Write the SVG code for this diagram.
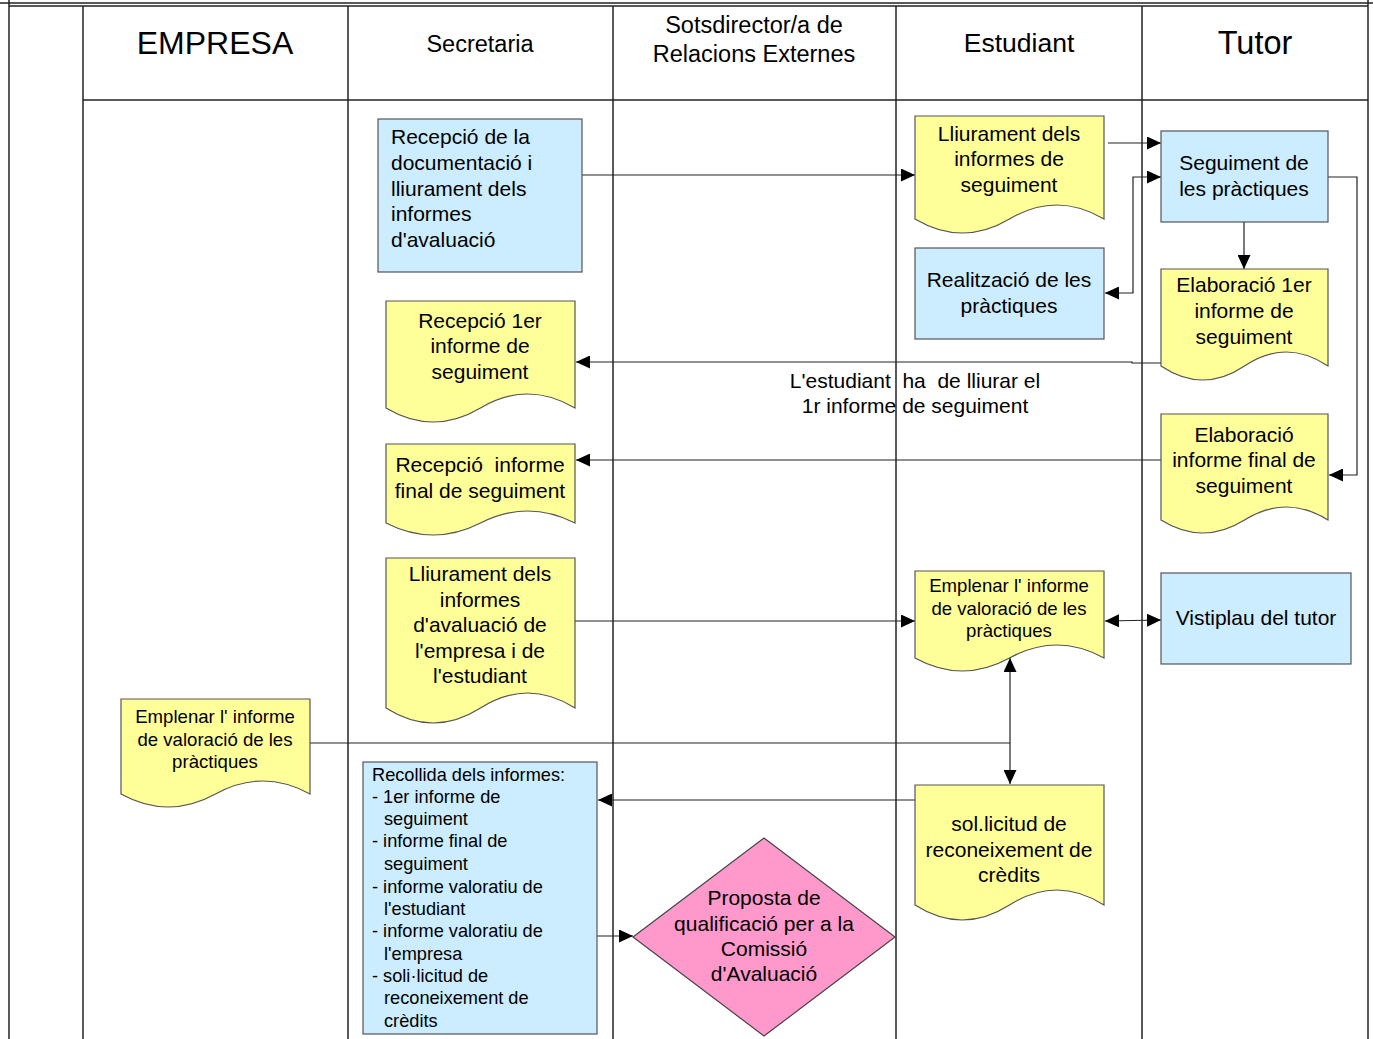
<svg xmlns="http://www.w3.org/2000/svg" width="1373" height="1039" viewBox="0 0 1373 1039">
<style>
text{font-family:"Liberation Sans",Arial,sans-serif;fill:#000}
.t{font-size:21px;text-anchor:middle}
.tl{font-size:21px}
.s{font-size:18.6px;text-anchor:middle}
.r{font-size:18.2px}
.h{text-anchor:middle}
.grid{stroke:#222;stroke-width:1.5;fill:none}
.blue{fill:#CCECFF;stroke:#555;stroke-width:1.2}
.yel{fill:#FFFF99;stroke:#555;stroke-width:1.2}
.pink{fill:#FF99CC;stroke:#444;stroke-width:1.2}
.c{stroke:#222;stroke-width:1.2;fill:none}
.a{marker-end:url(#ah)}
.b{marker-start:url(#ah);marker-end:url(#ah)}
</style>
<defs>
<marker id="ah" markerUnits="userSpaceOnUse" markerWidth="15" markerHeight="13" refX="14" refY="6.5" orient="auto-start-reverse"><path d="M0,0 L14,6.5 L0,13 z" fill="#000"/></marker>
</defs>
<rect width="1373" height="1039" fill="#fff"/>
<g id="table">
<line class="grid" x1="0" y1="3" x2="1373" y2="3" stroke-width="1"/>
<line class="grid" x1="9" y1="6" x2="1368" y2="6"/>
<line class="grid" x1="9" y1="0" x2="9" y2="1039"/>
<line class="grid" x1="83" y1="6" x2="83" y2="1039"/>
<line class="grid" x1="348" y1="6" x2="348" y2="1039"/>
<line class="grid" x1="613" y1="6" x2="613" y2="1039"/>
<line class="grid" x1="896" y1="6" x2="896" y2="1039"/>
<line class="grid" x1="1142" y1="6" x2="1142" y2="1039"/>
<line class="grid" x1="1368" y1="0" x2="1368" y2="1039"/>
<line class="grid" x1="83" y1="100" x2="1368" y2="100"/>
<text class="h" x="215" y="54" font-size="32">EMPRESA</text>
<text class="h" x="480" y="52" font-size="23.5">Secretaria</text>
<text class="h" x="754" y="33" font-size="23.5">Sotsdirector/a de</text>
<text class="h" x="754" y="62" font-size="23.5">Relacions Externes</text>
<text class="h" x="1019" y="52" font-size="26.5">Estudiant</text>
<text class="h" x="1255" y="54" font-size="32.5">Tutor</text>
</g>
<g id="connectors">
<path class="c a" d="M582,175 H915"/>
<path class="c a" d="M1108,143 H1161"/>
<path class="c b" d="M1161,177 H1133 V293 H1105"/>
<path class="c a" d="M1244,222 V269"/>
<path class="c a" d="M1161,363 H1132 V362 H576"/>
<path class="c a" d="M1328,177 H1357 V475 H1329"/>
<path class="c a" d="M1161,460 H576"/>
<path class="c a" d="M575,621 H915"/>
<path class="c b" d="M1105,621 L1161,620"/>
<path class="c" d="M310,743 H1010"/>
<path class="c b" d="M1010,658 V784"/>
<path class="c a" d="M915,800 H598"/>
<path class="c a" d="M597,936 H633"/>
<text class="tl" x="915" y="388" text-anchor="middle" font-size="19.5" style="white-space:pre">L'estudiant  ha  de lliurar el</text>
<text class="tl" x="915" y="413" text-anchor="middle" font-size="19.5">1r informe de seguiment</text>
</g>
<g id="n_recepcio_doc">
<rect class="blue" x="378" y="119" width="204" height="153"/>
<text class="tl" x="391" y="144">Recepció de la</text>
<text class="tl" x="391" y="170">documentació i</text>
<text class="tl" x="391" y="196">lliurament dels</text>
<text class="tl" x="391" y="221">informes</text>
<text class="tl" x="391" y="247">d'avaluació</text>
</g>
<g id="n_lliurament_seg">
<path class="yel" d="M915,116 H1104 V219 Q1056.75,191 1009.5,219 T915,219 Z"/>
<text class="t" x="1009" y="141">Lliurament dels</text>
<text class="t" x="1009" y="166">informes de</text>
<text class="t" x="1009" y="192">seguiment</text>
</g>
<g id="n_realitzacio">
<rect class="blue" x="915" y="248" width="189" height="91"/>
<text class="t" x="1009" y="287">Realització de les</text>
<text class="t" x="1009" y="313">pràctiques</text>
</g>
<g id="n_seguiment">
<rect class="blue" x="1161" y="131" width="167" height="91"/>
<text class="t" x="1244" y="170">Seguiment de</text>
<text class="t" x="1244" y="196">les pràctiques</text>
</g>
<g id="n_elab1">
<path class="yel" d="M1161,269 H1328 V366 Q1286.25,338 1244.5,366 T1161,366 Z"/>
<text class="t" x="1244" y="292">Elaboració 1er</text>
<text class="t" x="1244" y="318">informe de</text>
<text class="t" x="1244" y="344">seguiment</text>
</g>
<g id="n_rec1">
<path class="yel" d="M386,301 H575 V408 Q527.75,380 480.5,408 T386,408 Z"/>
<text class="t" x="480" y="328">Recepció 1er</text>
<text class="t" x="480" y="353">informe de</text>
<text class="t" x="480" y="379">seguiment</text>
</g>
<g id="n_recfinal">
<path class="yel" d="M386,444 H575 V523 Q527.75,499 480.5,523 T386,523 Z"/>
<text class="t" x="480" y="472" style="white-space:pre">Recepció  informe</text>
<text class="t" x="480" y="498">final de seguiment</text>
</g>
<g id="n_elabfinal">
<path class="yel" d="M1161,414 H1328 V520 Q1286.25,494 1244.5,520 T1161,520 Z"/>
<text class="t" x="1244" y="442">Elaboració</text>
<text class="t" x="1244" y="467">informe final de</text>
<text class="t" x="1244" y="493">seguiment</text>
</g>
<g id="n_lliurament_aval">
<path class="yel" d="M386,558 H575 V708 Q527.75,678 480.5,708 T386,708 Z"/>
<text class="t" x="480" y="581">Lliurament dels</text>
<text class="t" x="480" y="607">informes</text>
<text class="t" x="480" y="632">d'avaluació de</text>
<text class="t" x="480" y="658">l'empresa i de</text>
<text class="t" x="480" y="683">l'estudiant</text>
</g>
<g id="n_emplenar_est">
<path class="yel" d="M915,571 H1104 V658 Q1056.75,632 1009.5,658 T915,658 Z"/>
<text class="s" x="1009" y="592">Emplenar l' informe</text>
<text class="s" x="1009" y="615">de valoració de les</text>
<text class="s" x="1009" y="637">pràctiques</text>
</g>
<g id="n_vistiplau">
<rect class="blue" x="1161" y="573" width="190" height="91"/>
<text class="t" x="1256" y="625">Vistiplau del tutor</text>
</g>
<g id="n_emplenar_emp">
<path class="yel" d="M121,699 H310 V794 Q262.75,768 215.5,794 T121,794 Z"/>
<text class="s" x="215" y="723">Emplenar l' informe</text>
<text class="s" x="215" y="746">de valoració de les</text>
<text class="s" x="215" y="768">pràctiques</text>
</g>
<g id="n_recollida">
<rect class="blue" x="363" y="762" width="234" height="272"/>
<text class="r" x="372" y="781">Recollida dels informes:</text>
<text class="r" x="372" y="803">- 1er informe de</text>
<text class="r" x="384" y="825">seguiment</text>
<text class="r" x="372" y="847">- informe final de</text>
<text class="r" x="384" y="870">seguiment</text>
<text class="r" x="372" y="893">- informe valoratiu de</text>
<text class="r" x="384" y="915">l'estudiant</text>
<text class="r" x="372" y="937">- informe valoratiu de</text>
<text class="r" x="384" y="960">l'empresa</text>
<text class="r" x="372" y="982">- soli·licitud de</text>
<text class="r" x="384" y="1004">reconeixement de</text>
<text class="r" x="384" y="1027">crèdits</text>
</g>
<g id="n_sollicitud">
<path class="yel" d="M915,785 H1104 V905 Q1056.75,875 1009.5,905 T915,905 Z"/>
<text class="t" x="1009" y="831">sol.licitud de</text>
<text class="t" x="1009" y="857">reconeixement de</text>
<text class="t" x="1009" y="882">crèdits</text>
</g>
<g id="n_proposta">
<path class="pink" d="M633,937 L764,838 L895,937 L764,1036 Z"/>
<text class="t" x="764" y="905">Proposta de</text>
<text class="t" x="764" y="931">qualificació per a la</text>
<text class="t" x="764" y="956">Comissió</text>
<text class="t" x="764" y="981">d'Avaluació</text>
</g>
</svg>
